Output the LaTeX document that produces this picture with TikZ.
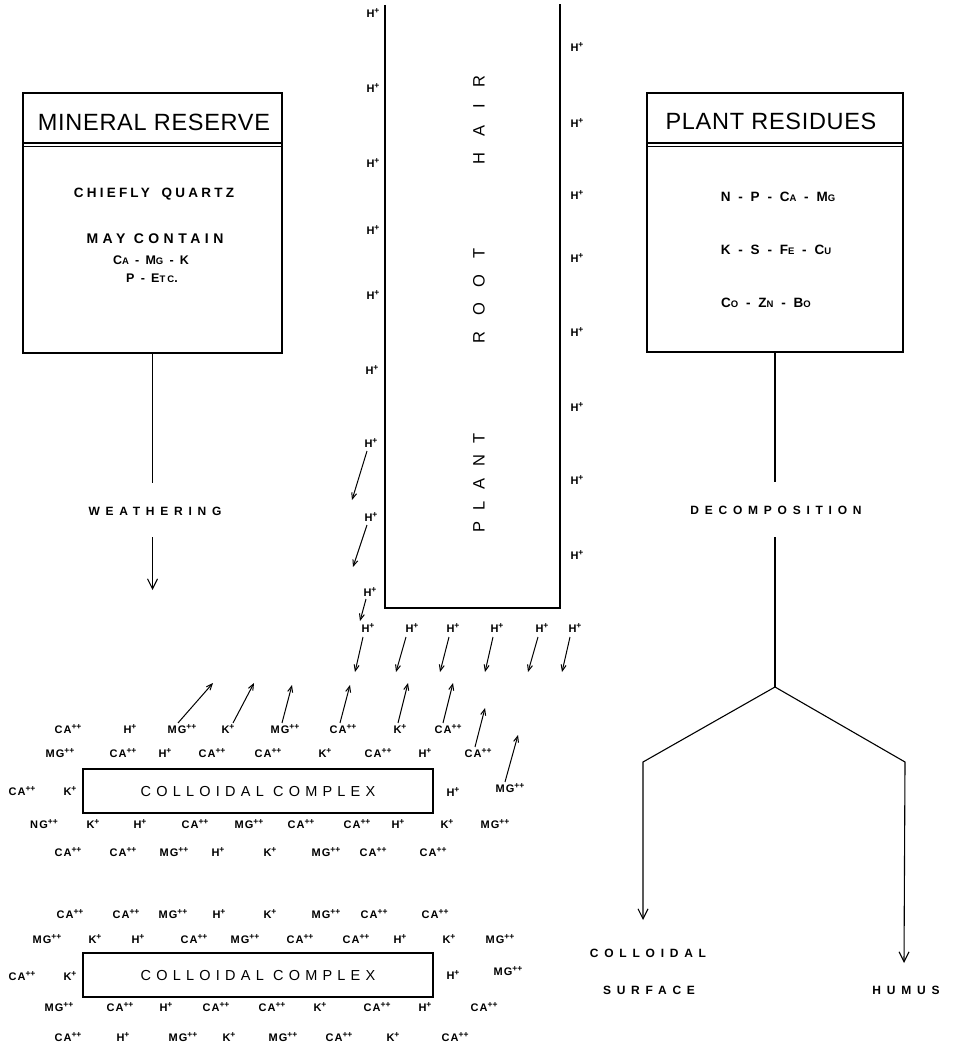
\documentclass[tikz,border=0pt]{standalone}
\usepackage{fontspec}
\setmainfont{Liberation Sans}
\usetikzlibrary{arrows.meta}
\newcommand\lsp[1]{\addfontfeatures{LetterSpace=#1}}
\newcommand\sca[1]{{\fontsize{9.5}{9.5}\selectfont #1}}
\newcommand\sups[1]{\raisebox{0.42em}{\fontsize{8.5}{8.5}\selectfont\addfontfeatures{LetterSpace=0}#1}}
\newcommand\CAp{CA\sups{++}}
\newcommand\MGp{MG\sups{++}}
\newcommand\NGp{NG\sups{++}}
\newcommand\Kp{K\sups{+}}
\newcommand\Hp{H\sups{+}}
\begin{document}
\begin{tikzpicture}[x=1pt,y=-1pt,
  box/.style={draw, line width=2.3pt, inner sep=0pt, outer sep=0pt},
  title/.style={font=\fontsize{23.5}{24}\selectfont\lsp{3}, inner sep=0pt},
  boxtxt/.style={font=\fontsize{13.5}{13.5}\selectfont\bfseries\lsp{30}, inner sep=0pt},
  lbl/.style={font=\fontsize{12}{12}\selectfont\bfseries\lsp{48}, inner sep=0pt},
  ion/.style={font=\fontsize{11}{11}\selectfont\bfseries\lsp{10}, inner sep=0pt},
  rootlbl/.style={rotate=90, inner sep=0pt},
  conn/.style={line width=1.1pt},
  sepline/.style={line width=1.3pt},
  bigarrow/.style={line width=1.1pt, -{Straight Barb[length=10pt,width=10pt]}},
  ionarrow/.style={line width=1pt, -{Straight Barb[length=6pt,width=5pt]}},
  wall/.style={line width=2.2pt}
]
\useasboundingbox (0,0) rectangle (958,1048);
\fill[white] (0,0) rectangle (958,1048);

% ---------- Mineral reserve ----------
\node[box, minimum width=259pt, minimum height=260pt] (mr) at (152.5,223) {};
\node[title] (mrT) at (154,122) {MINERAL RESERVE};
\draw[sepline] ([yshift=-50pt]mr.north west) -- ([yshift=-50pt]mr.north east);
\draw[line width=0.8pt] ([yshift=-53.5pt]mr.north west) -- ([yshift=-53.5pt]mr.north east);
\node[boxtxt, font=\fontsize{13.5}{13.5}\selectfont\bfseries\lsp{24}] (mr1) at (154,194) {CHIEFLY\hspace{5pt} QUARTZ};
\node[boxtxt, font=\fontsize{14}{14}\selectfont\bfseries\lsp{32}] (mr2) at (155,239) {MAY CONTAIN};
\node[boxtxt, font=\fontsize{12.5}{12.5}\selectfont\bfseries\lsp{22}] (mr3) at (151,260) {C\sca{A} - M\sca{G} - K};
\node[boxtxt, font=\fontsize{12.5}{12.5}\selectfont\bfseries\lsp{22}] (mr4) at (152,278) {P - E\sca{TC}.};

\node[lbl] (wea) at (155,511) {WEATHERING};
\coordinate (weaTip) at (152.5,590);
\coordinate (weaA) at (152.5,483);
\coordinate (weaB) at (152.5,537);
\draw[conn] (mr.south) -- (weaA);
\draw[bigarrow] (weaB) -- (weaTip);

% ---------- Plant residues ----------
\node[box, minimum width=256pt, minimum height=259pt] (pr) at (775,222.5) {};
\node[title] (prT) at (771,121) {PLANT RESIDUES};
\draw[sepline] ([yshift=-50pt]pr.north west) -- ([yshift=-50pt]pr.north east);
\draw[line width=0.8pt] ([yshift=-53.5pt]pr.north west) -- ([yshift=-53.5pt]pr.north east);
\node[boxtxt] (pr1) at (778,197) {N - P - C\sca{A} - M\sca{G}};
\node[boxtxt] (pr2) at (776,250) {K - S - F\sca{E} - C\sca{U}};
\node[boxtxt] (pr3) at (766,303) {C\sca{O} - Z\sca{N} - B\sca{O}};

\node[lbl] (dec) at (776,510) {DECOMPOSITION};
\coordinate (decA) at (775,482);
\coordinate (decB) at (775,537);
\coordinate (br) at (775,687);
\coordinate (bL) at (643,762);
\coordinate (bR) at (905,762);
\coordinate (tipL) at (643,920);
\coordinate (tipR) at (904,963);
\draw[conn] (pr.south) -- (decA);
\draw[conn] (decB) -- (br);
\draw[bigarrow] (br) -- (bL) -- (tipL);
\draw[bigarrow] (br) -- (bR) -- (tipR);
\node[lbl] (cs1) at (648,953) {COLLOIDAL};
\node[lbl] (cs2) at (649,990) {SURFACE};
\node[lbl] (hum) at (906,990) {HUMUS};

% ---------- Plant root hair ----------
\coordinate (rTL) at (385,5);
\coordinate (rBL) at (385,608);
\coordinate (rBR) at (560,608);
\coordinate (rTR) at (560,4);
\draw[wall] (rTL) -- (rBL) -- (rBR) -- (rTR);
\node[rootlbl, font=\fontsize{16.5}{16.5}\selectfont\lsp{70}] (rt1) at (479,483) {PLANT};
\node[rootlbl, font=\fontsize{16.5}{16.5}\selectfont\lsp{95}] (rt2) at (479,296) {ROOT};
\node[rootlbl, font=\fontsize{16.5}{16.5}\selectfont\lsp{100}] (rt3) at (479,120) {HAIR};

% H+ along the root
\foreach \n/\x/\y in {hl1/373/13, hl2/373/88, hl3/373/163, hl4/373/230, hl5/373/295,
                      hl6/372/370, hl7/371/443, hl8/371/517, hl9/370/592,
                      hr1/577/47, hr2/577/123, hr3/577/195, hr4/577/258,
                      hr5/577/332, hr6/577/407, hr7/577/480, hr8/577/555,
                      hb1/368/628, hb2/412/628, hb3/453/628, hb4/497/628, hb5/542/628, hb6/575/628}
  \node[ion] (\n) at (\x,\y) {\Hp};

% arrows leaving the root
\coordinate (la1) at (352,500);
\coordinate (la2) at (353,567);
\coordinate (la3) at (360,621);
\draw[ionarrow] ([xshift=-4pt,yshift=-3pt]hl7.south) -- (la1);
\draw[ionarrow] ([xshift=-4pt,yshift=-3pt]hl8.south) -- (la2);
\draw[ionarrow] ([xshift=-4pt,yshift=-2pt]hl9.south) -- (la3);
\foreach \n/\dx/\tx in {hb1/-5/355, hb2/-6/396, hb3/-4/440, hb4/-4/485, hb5/-4/528, hb6/-5/562}{
  \coordinate (t\n) at (\tx,672);
  \draw[ionarrow] ([xshift=\dx pt,yshift=-4pt]\n.south) -- (t\n);
}

% ---------- Colloidal complex 1 ----------
\node[box, minimum width=350pt, minimum height=44pt, font=\fontsize{14.5}{14.5}\selectfont\lsp{36}] (cc1) at (258,791) {COLLOIDAL COMPLEX};
\foreach \n/\x/\y/\t in {pa1/68/729/\CAp, pa2/130/729/\Hp, pa3/182/729/\MGp, pa4/228/729/\Kp,
   pa5/285/729/\MGp, pa6/343/729/\CAp, pa7/400/729/\Kp, pa8/448/729/\CAp,
   pb1/60/753/\MGp, pb2/123/753/\CAp, pb3/165/753/\Hp, pb4/212/753/\CAp, pb5/268/753/\CAp,
   pb6/325/753/\Kp, pb7/378/753/\CAp, pb8/425/753/\Hp, pb9/478/753/\CAp,
   pc1/22/791/\CAp, pc2/70/791/\Kp, pc3/453/792/\Hp, pc4/510/788/\MGp,
   pd1/44/824/\NGp, pd2/93/824/\Kp, pd3/140/824/\Hp, pd4/195/824/\CAp, pd5/249/824/\MGp,
   pd6/301/824/\CAp, pd7/357/824/\CAp, pd8/398/824/\Hp, pd9/447/824/\Kp, pd10/495/824/\MGp,
   pe1/68/852/\CAp, pe2/123/852/\CAp, pe3/174/852/\MGp, pe4/218/852/\Hp, pe5/270/852/\Kp,
   pe6/326/852/\MGp, pe7/373/852/\CAp, pe8/433/852/\CAp}
  \node[ion] (\n) at (\x,\y) {\t};

% ions moving up towards the root
\foreach \n/\dx/\tx/\ty in {pa3/-4/213/683, pa4/5/254/683, pa5/-3/292/685, pa6/-3/350/685,
   pa7/-2/408/683, pa8/-5/453/683, pb9/-3/485/708, pc4/-5/518/735}{
  \coordinate (u\n) at (\tx,\ty);
  \draw[ionarrow] ([xshift=\dx pt,yshift=1pt]\n.north) -- (u\n);
}

% ---------- Colloidal complex 2 ----------
\node[box, minimum width=350pt, minimum height=44pt, font=\fontsize{14.5}{14.5}\selectfont\lsp{36}] (cc2) at (258,975) {COLLOIDAL COMPLEX};
\foreach \n/\x/\y/\t in {qa1/70/914/\CAp, qa2/126/914/\CAp, qa3/173/914/\MGp, qa4/219/914/\Hp,
   qa5/270/914/\Kp, qa6/326/914/\MGp, qa7/374/914/\CAp, qa8/435/914/\CAp,
   qb1/47/939/\MGp, qb2/95/939/\Kp, qb3/138/939/\Hp, qb4/194/939/\CAp, qb5/245/939/\MGp,
   qb6/300/939/\CAp, qb7/356/939/\CAp, qb8/400/939/\Hp, qb9/449/939/\Kp, qb10/500/939/\MGp,
   qc1/22/976/\CAp, qc2/70/976/\Kp, qc3/453/975/\Hp, qc4/508/971/\MGp,
   qd1/59/1007/\MGp, qd2/120/1007/\CAp, qd3/166/1007/\Hp, qd4/216/1007/\CAp, qd5/272/1007/\CAp,
   qd6/320/1007/\Kp, qd7/377/1007/\CAp, qd8/425/1007/\Hp, qd9/484/1007/\CAp,
   qe1/68/1037/\CAp, qe2/123/1037/\Hp, qe3/183/1037/\MGp, qe4/229/1037/\Kp, qe5/283/1037/\MGp,
   qe6/339/1037/\CAp, qe7/393/1037/\Kp, qe8/455/1037/\CAp}
  \node[ion] (\n) at (\x,\y) {\t};
\end{tikzpicture}
\end{document}
